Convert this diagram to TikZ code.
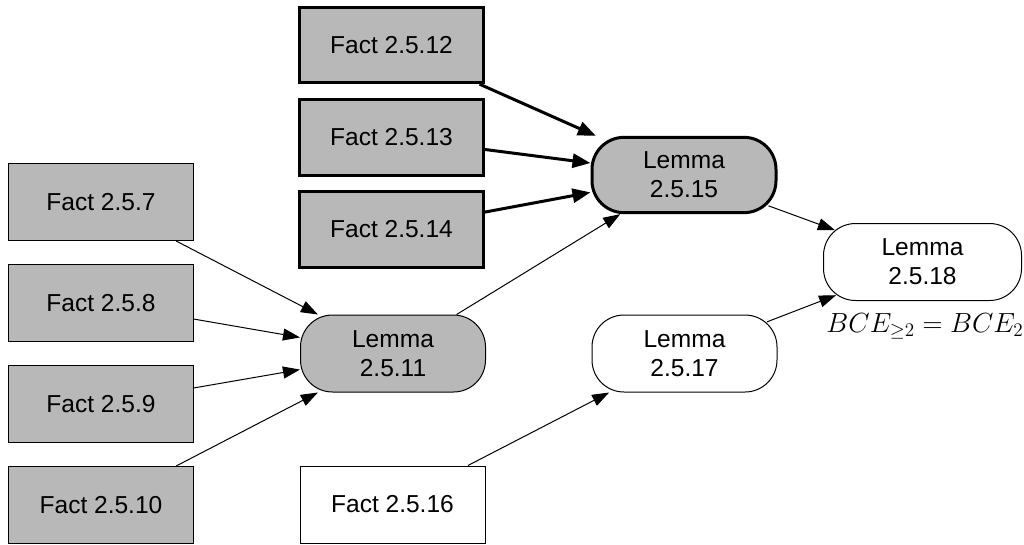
\documentclass[tikz,border=0pt]{standalone}
\usepackage{fontspec}
\setmainfont{Liberation Sans}
\usetikzlibrary{arrows.meta}
\definecolor{nodegray}{RGB}{184,184,184}
\begin{document}
\begin{tikzpicture}[x=0.75pt,y=-0.75pt,
  every node/.style={font=\fontsize{18.4}{21.8}\selectfont, align=center, inner sep=0pt},
  fact/.style={draw, line width=0.75pt, minimum width=138.75pt, minimum height=57.75pt},
  lemma/.style={fact, rounded corners=24pt},
  grey/.style={fill=nodegray},
  heavy/.style={line width=2.25pt, minimum width=138pt, minimum height=56.5pt},
  edge/.style={-{Triangle[length=12.75pt,width=9pt]}, line width=0.75pt},
  heavyedge/.style={-{Triangle[length=13.5pt,width=10.5pt]}, line width=2.25pt}]
\useasboundingbox (0,0) rectangle (1024,544);

% left column of facts
\node[fact, grey] (f7)  at (101,202) {Fact 2.5.7};
\node[fact, grey] (f8)  at (101,303) {Fact 2.5.8};
\node[fact, grey] (f9)  at (101,404) {Fact 2.5.9};
\node[fact, grey] (f10) at (101,505) {Fact 2.5.10};

% middle column
\node[fact, grey, heavy] (f12) at (391.5,45)    {Fact 2.5.12};
\node[fact, grey, heavy] (f13) at (391.5,137.5) {Fact 2.5.13};
\node[fact, grey, heavy] (f14) at (391.5,229.5) {Fact 2.5.14};
\node[lemma, grey] (l11) at (393,353.5) {Lemma\\2.5.11};
\node[fact] (f16) at (392.5,504.5) {Fact 2.5.16};

% lemmas on the right
\node[lemma, grey, heavy] (l15) at (684,175) {Lemma\\2.5.15};
\node[lemma] (l17) at (684.5,353.5) {Lemma\\2.5.17};
\node[lemma, minimum width=148.5pt] (l18) at (922.5,262) {Lemma\\2.5.18};
\node[anchor=base, font=\fontsize{20}{24}\selectfont] (bce) at (925,332) {$BCE_{\geq 2} = BCE_2$};

% dependencies
\draw[edge] (f7)  -- (l11);
\draw[edge] (f8)  -- (l11);
\draw[edge] (f9)  -- (l11);
\draw[edge] (f10) -- (l11);
\draw[heavyedge] (f12) -- (l15);
\draw[heavyedge] (f13) -- (l15);
\draw[heavyedge] (f14) -- (l15);
\draw[edge] (l11) -- (l15);
\draw[edge] (f16) -- (l17);
% the rounded corners sit inside the node boxes, so these reach a little further in
\draw[edge, shorten <=-7.2pt, shorten >=-9.5pt] (l15) -- (l18);
\draw[edge, shorten <=-8.5pt, shorten >=-10.5pt] (l17) -- (l18);
\end{tikzpicture}
\end{document}
